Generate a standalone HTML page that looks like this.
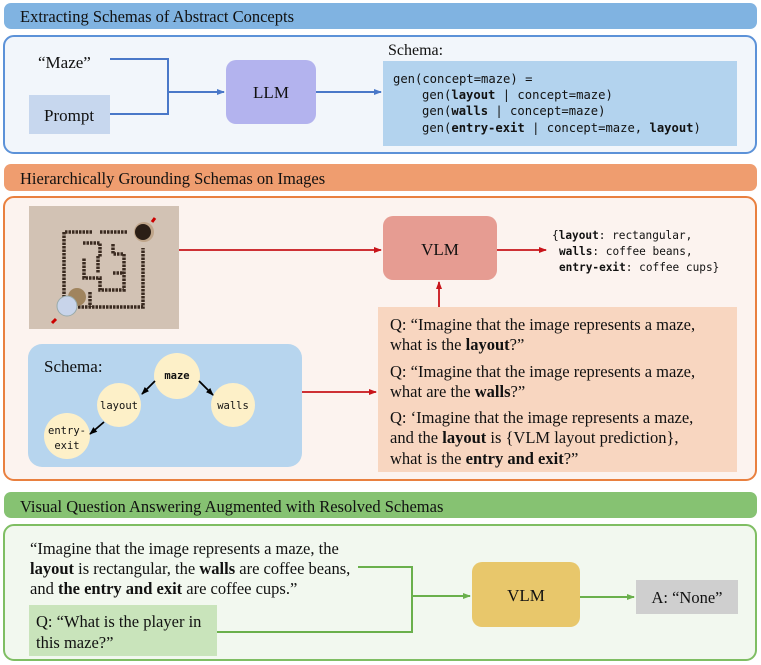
<!DOCTYPE html>
<html><head><meta charset="utf-8"><style>
html,body{margin:0;padding:0;background:#fff;}
svg{display:block;}
.s{font-family:"Liberation Serif",serif;}
.m{font-family:"DejaVu Sans Mono","Liberation Mono",monospace;}
</style></head><body>
<svg width="761" height="665" viewBox="0 0 761 665" xmlns="http://www.w3.org/2000/svg">
<defs>
<marker id="ab" markerWidth="8" markerHeight="8" refX="7" refY="4" orient="auto" markerUnits="userSpaceOnUse"><path d="M0,1 L8,4 L0,7z" fill="#4a78c8"/></marker>
<marker id="ar" markerWidth="8" markerHeight="8" refX="7" refY="4" orient="auto" markerUnits="userSpaceOnUse"><path d="M0,1 L8,4 L0,7z" fill="#c8141a"/></marker>
<marker id="ag" markerWidth="8" markerHeight="8" refX="7" refY="4" orient="auto" markerUnits="userSpaceOnUse"><path d="M0,1 L8,4 L0,7z" fill="#6ab04c"/></marker>
<marker id="ak" markerWidth="8" markerHeight="8" refX="7" refY="4" orient="auto" markerUnits="userSpaceOnUse"><path d="M0,1 L8,4 L0,7z" fill="#000"/></marker>
</defs>

<!-- Section 1 -->
<rect x="4" y="3" width="753" height="26" rx="7" fill="#80b3e1"/>
<text x="20" y="22" class="s" font-size="16.5" fill="#111">Extracting Schemas of Abstract Concepts</text>
<rect x="4" y="36" width="752" height="117" rx="10" fill="#f2f6fb" stroke="#5c92d8" stroke-width="2"/>
<text x="38" y="68" class="s" font-size="17" fill="#111">“Maze”</text>
<rect x="29" y="95" width="81" height="39" fill="#c7d7ee"/>
<text x="44" y="121" class="s" font-size="17" fill="#111">Prompt</text>
<path d="M110,59 H168 V114 H110" fill="none" stroke="#4a78c8" stroke-width="2"/>
<line x1="168" y1="92" x2="224" y2="92" stroke="#4a78c8" stroke-width="2" marker-end="url(#ab)"/>
<rect x="226" y="60" width="90" height="64" rx="10" fill="#b3b3ee"/>
<text x="271" y="98" text-anchor="middle" class="s" font-size="17" fill="#111">LLM</text>
<line x1="316" y1="92" x2="381" y2="92" stroke="#4a78c8" stroke-width="2" marker-end="url(#ab)"/>
<text x="388" y="55" class="s" font-size="16" fill="#111">Schema:</text>
<rect x="383" y="61" width="354" height="85" fill="#b3d3ee"/>
<g class="m" font-size="12.2" fill="#111">
<text x="393" y="83">gen(concept=maze) =</text>
<text x="422" y="99">gen(<tspan font-weight="bold">layout</tspan> | concept=maze)</text>
<text x="422" y="115">gen(<tspan font-weight="bold">walls</tspan> | concept=maze)</text>
<text x="422" y="132">gen(<tspan font-weight="bold">entry-exit</tspan> | concept=maze, <tspan font-weight="bold">layout</tspan>)</text>
</g>

<!-- Section 2 -->
<rect x="4" y="164" width="753" height="27" rx="7" fill="#ef9d6f"/>
<text x="20" y="184" class="s" font-size="16.5" fill="#111">Hierarchically Grounding Schemas on Images</text>
<rect x="4" y="197" width="752" height="283" rx="10" fill="#fcf3ef" stroke="#e9803f" stroke-width="2"/>
<rect x="29" y="206" width="150" height="123" fill="#d2c2b4"/>
<g fill="none" stroke="#3a2a20" stroke-width="3.5" stroke-dasharray="2.5 1">
<path d="M92,232 H64 V306"/>
<path d="M64,307 H143 V248"/>
<path d="M83,243 H100 V257"/>
<path d="M113,244 V254 H124 V290 H100 V278 H84 V258"/>
<path d="M98,256 V273"/>
<path d="M113,273 H124"/>
<path d="M90,292 V307"/>
<path d="M100,232 H128"/>
</g>
<circle cx="144" cy="232" r="10" fill="#bfa58a"/>
<circle cx="143" cy="232" r="8" fill="#2b1e16"/>
<circle cx="77" cy="297" r="9" fill="#a0845e"/>
<circle cx="67" cy="306" r="10" fill="#c8d4ea" stroke="#9aa" stroke-width="1"/>
<line x1="56" y1="319" x2="52" y2="323" stroke="#c00" stroke-width="3"/>
<line x1="152" y1="222" x2="155" y2="218" stroke="#c00" stroke-width="3"/>
<line x1="179" y1="250" x2="381" y2="250" stroke="#c8141a" stroke-width="1.8" marker-end="url(#ar)"/>
<rect x="383" y="216" width="114" height="64" rx="10" fill="#e69c92"/>
<text x="440" y="255" text-anchor="middle" class="s" font-size="17" fill="#111">VLM</text>
<line x1="497" y1="250" x2="546" y2="250" stroke="#c8141a" stroke-width="1.8" marker-end="url(#ar)"/>
<g class="m" font-size="11.1" fill="#111">
<text x="552" y="239">{<tspan font-weight="bold">layout</tspan>: rectangular,</text>
<text x="559" y="255"><tspan font-weight="bold">walls</tspan>: coffee beans,</text>
<text x="559" y="271"><tspan font-weight="bold">entry-exit</tspan>: coffee cups}</text>
</g>
<line x1="439" y1="308" x2="439" y2="282" stroke="#c8141a" stroke-width="1.8" marker-end="url(#ar)"/>
<rect x="378" y="307" width="359" height="165" fill="#f8d6c0"/>
<g class="s" font-size="16.5" fill="#111">
<text x="390" y="330">Q: “Imagine that the image represents a maze,</text>
<text x="390" y="350">what is the <tspan font-weight="bold">layout</tspan>?”</text>
<text x="390" y="377">Q: “Imagine that the image represents a maze,</text>
<text x="390" y="397">what are the <tspan font-weight="bold">walls</tspan>?”</text>
<text x="390" y="423">Q: ‘Imagine that the image represents a maze,</text>
<text x="390" y="443">and the <tspan font-weight="bold">layout</tspan> is {VLM layout prediction},</text>
<text x="390" y="464">what is the <tspan font-weight="bold">entry and exit</tspan>?”</text>
</g>
<rect x="28" y="344" width="274" height="123" rx="14" fill="#b7d5ee"/>
<text x="44" y="372" class="s" font-size="17" fill="#111">Schema:</text>
<line x1="302" y1="392" x2="376" y2="392" stroke="#c8141a" stroke-width="1.8" marker-end="url(#ar)"/>
<circle cx="177" cy="376" r="23" fill="#fdf0c8"/>
<circle cx="119" cy="405" r="22" fill="#fdf0c8"/>
<circle cx="233" cy="405" r="22" fill="#fdf0c8"/>
<circle cx="67" cy="436" r="23" fill="#fdf0c8"/>
<g stroke="#000" stroke-width="1.8">
<line x1="155" y1="381" x2="142" y2="394" marker-end="url(#ak)"/>
<line x1="199" y1="381" x2="213" y2="395" marker-end="url(#ak)"/>
<line x1="104" y1="422" x2="90" y2="434" marker-end="url(#ak)"/>
</g>
<g class="m" font-size="10.5" fill="#111" text-anchor="middle">
<text x="177" y="379" font-weight="bold">maze</text>
<text x="119" y="409">layout</text>
<text x="233" y="409">walls</text>
<text x="67" y="434">entry-</text>
<text x="67" y="449">exit</text>
</g>

<!-- Section 3 -->
<rect x="4" y="492" width="753" height="26" rx="7" fill="#86c272"/>
<text x="20" y="512" class="s" font-size="16.5" fill="#111">Visual Question Answering Augmented with Resolved Schemas</text>
<rect x="4" y="525" width="752" height="135" rx="10" fill="#f2f8ef" stroke="#7fbe63" stroke-width="2"/>
<g class="s" font-size="16.5" fill="#111">
<text x="30" y="554">“Imagine that the image represents a maze, the</text>
<text x="30" y="574"><tspan font-weight="bold">layout</tspan> is rectangular, the <tspan font-weight="bold">walls</tspan> are coffee beans,</text>
<text x="30" y="594">and <tspan font-weight="bold">the entry and exit</tspan> are coffee cups.”</text>
</g>
<rect x="29" y="605" width="188" height="51" fill="#c9e4bb"/>
<g class="s" font-size="16.5" fill="#111">
<text x="36" y="627">Q: “What is the player in</text>
<text x="36" y="648">this maze?”</text>
</g>
<path d="M358,567 H412 V632 H217" fill="none" stroke="#6ab04c" stroke-width="2"/>
<line x1="412" y1="596" x2="470" y2="596" stroke="#6ab04c" stroke-width="2" marker-end="url(#ag)"/>
<rect x="472" y="562" width="108" height="65" rx="10" fill="#e8c76b"/>
<text x="526" y="601" text-anchor="middle" class="s" font-size="17" fill="#111">VLM</text>
<line x1="580" y1="597" x2="634" y2="597" stroke="#6ab04c" stroke-width="2" marker-end="url(#ag)"/>
<rect x="636" y="580" width="102" height="34" fill="#cfcfcf"/>
<text x="687" y="603" text-anchor="middle" class="s" font-size="16.5" fill="#111">A: “None”</text>
</svg>
</body></html>
